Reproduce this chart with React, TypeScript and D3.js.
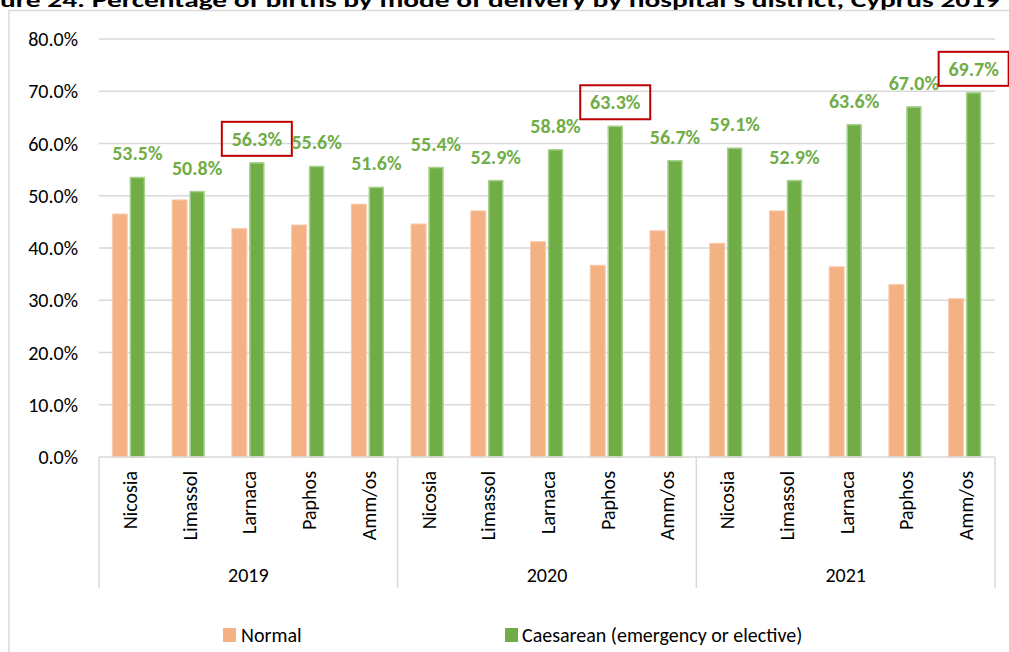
import React from "react";
import * as d3 from "d3";

const years = ["2019", "2020", "2021"];
const districts = ["Nicosia", "Limassol", "Larnaca", "Paphos", "Amm/os"];
const normal2019 = [46.5, 49.2, 43.7, 44.4, 48.4];
const normal2020 = [44.6, 47.1, 41.2, 36.7, 43.3];
const normal2021 = [40.9, 47.1, 36.4, 33.0, 30.3];
const caesarean2019 = [53.5, 50.8, 56.3, 55.6, 51.6];
const caesarean2020 = [55.4, 52.9, 58.8, 63.3, 56.7];
const caesarean2021 = [59.1, 52.9, 63.6, 67.0, 69.7];
const highlighted = ["2019-Larnaca", "2020-Paphos", "2021-Amm/os"];
const yTicks = [0, 10, 20, 30, 40, 50, 60, 70, 80];
const seriesNames = ["Normal", "Caesarean (emergency or elective)"];

const W = 1009;
const H = 652;
const FONT = "Carlito, Calibri, Lato, 'Open Sans', sans-serif";
const ORANGE = "#F4B183";
const GREEN = "#70AD47";
const FS = 20;

export default function App() {
  const normalAll = [normal2019, normal2020, normal2021];
  const caesAll = [caesarean2019, caesarean2020, caesarean2021];
  const rows = years.flatMap((yr, gi) =>
    districts.map((d, di) => ({
      key: `${yr}-${d}`,
      year: yr,
      district: d,
      normal: normalAll[gi][di],
      caes: caesAll[gi][di],
    }))
  );

  const plotL = 99;
  const plotR = 995;
  const x = d3.scaleBand<string>().domain(rows.map((r) => r.key)).range([plotL, plotR]).padding(0);
  const y = d3.scaleLinear().domain([0, 80]).range([457, 39]);
  const gx = d3.scaleBand<string>().domain(years).range([plotL, plotR]).padding(0);
  const bw = 15;
  const fmt = (v: number) => d3.format(".1f")(v) + "%";

  return (
    <svg width={W} height={H} style={{ position: "absolute", left: 0, top: 0, background: "#fff" }} fontFamily={FONT}>
      <rect x={0} y={0} width={W} height={H} fill="#fff" />
      {/* Title (cropped at top edge, as in the source image) */}
      <text x={0} y={7} fontSize={21} fontWeight="bold" fill="#000" textLength={1000} lengthAdjust="spacingAndGlyphs">
        ure 24: Percentage of births by mode of delivery by hospital's district, Cyprus 2019
      </text>
      {/* chart frame */}
      <rect x={9} y={10.5} width={W + 20} height={H + 20} fill="none" stroke="#D9D9D9" strokeWidth={1.5} />
      {/* gridlines */}
      {yTicks.map((t) => (
        <g key={t}>
          {t > 0 && <line x1={plotL} x2={plotR} y1={y(t)} y2={y(t)} stroke="#D9D9D9" strokeWidth={1.5} />}
          <text x={78} y={y(t)} textAnchor="end" dominantBaseline="central" fontSize={FS} fill="#000">
            {fmt(t)}
          </text>
        </g>
      ))}
      {/* bars */}
      {rows.map((r) => {
        const c = (x(r.key) as number) + x.bandwidth() / 2;
        return (
          <g key={r.key}>
            <rect x={c - 16.5} y={y(r.normal)} width={bw} height={y(0) - y(r.normal)} fill={ORANGE} stroke="#F8CBAD" strokeWidth={1} />
            <rect x={c + 1.5} y={y(r.caes)} width={bw - 1} height={y(0) - y(r.caes)} fill={GREEN} stroke="#A9D18E" strokeWidth={1.5} />
          </g>
        );
      })}
      {/* axis baseline */}
      <line x1={plotL} x2={plotR} y1={y(0)} y2={y(0)} stroke="#D9D9D9" strokeWidth={1.5} />
      {/* group separators */}
      {[...years.map((yr) => gx(yr) as number), plotR].map((sx, i) => (
        <line key={i} x1={sx} x2={sx} y1={y(0)} y2={588} stroke="#D9D9D9" strokeWidth={1.5} />
      ))}
      {/* category labels */}
      {rows.map((r) => {
        const c = (x(r.key) as number) + x.bandwidth() / 2;
        return (
          <text key={r.key} transform={`translate(${c + 1},471) rotate(-90)`} textAnchor="end" dominantBaseline="central" fontSize={FS} fill="#000">
            {r.district}
          </text>
        );
      })}
      {years.map((yr) => (
        <text key={yr} x={(gx(yr) as number) + gx.bandwidth() / 2} y={575} textAnchor="middle" dominantBaseline="central" fontSize={FS} fill="#000">
          {yr}
        </text>
      ))}
      {/* data labels */}
      {rows.map((r) => {
        const c = (x(r.key) as number) + x.bandwidth() / 2 + 8.5;
        const ly = y(r.caes) - 24;
        const hl = highlighted.includes(r.key);
        return (
          <g key={r.key}>
            {hl && <rect x={c - 35} y={ly - 17} width={70} height={34} fill="none" stroke="#C00000" strokeWidth={2} />}
            <text x={c} y={ly} textAnchor="middle" dominantBaseline="central" fontSize={FS} fontWeight="bold" fill={GREEN}>
              {fmt(r.caes)}
            </text>
          </g>
        );
      })}
      {/* legend */}
      <rect x={223} y={628} width={13} height={14} fill={ORANGE} />
      <text x={241} y={635} dominantBaseline="central" fontSize={FS} fill="#000">{seriesNames[0]}</text>
      <rect x={505} y={628} width={13} height={14} fill={GREEN} />
      <text x={522} y={635} dominantBaseline="central" fontSize={FS} fill="#000">{seriesNames[1]}</text>
    </svg>
  );
}
